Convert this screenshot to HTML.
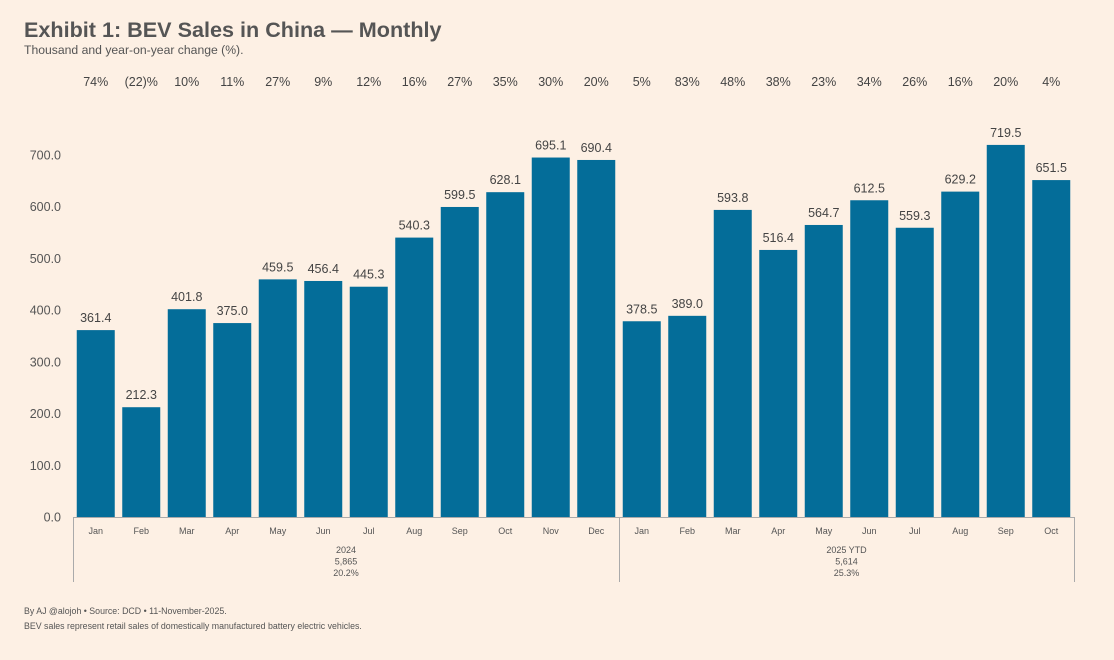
<!DOCTYPE html>
<html><head><meta charset="utf-8">
<style>
body{margin:0;background:#fdf0e4;font-family:"Liberation Sans",sans-serif;}
svg{display:block}
</style></head>
<body>
<svg id="chart" width="1114" height="660" viewBox="0 0 1114 660" xmlns="http://www.w3.org/2000/svg">
<rect width="1114" height="660" fill="#fdf0e4"/>
<text x="24" y="37" font-size="21.6" font-weight="bold" fill="#555">Exhibit 1: BEV Sales in China — Monthly</text>
<text x="24" y="54" font-size="12.2" fill="#555">Thousand and year-on-year change (%).</text>
<g id="yaxis"></g>
<g id="bars"></g>
<g id="xaxis"></g>
<text x="24" y="614" font-size="8.8" fill="#555">By AJ @alojoh • Source: DCD • 11-November-2025.</text>
<text x="24" y="629" font-size="8.8" fill="#555">BEV sales represent retail sales of domestically manufactured battery electric vehicles.</text>
</svg>
<script>
const months = ["Jan","Feb","Mar","Apr","May","Jun","Jul","Aug","Sep","Oct","Nov","Dec","Jan","Feb","Mar","Apr","May","Jun","Jul","Aug","Sep","Oct"];
const sales = [361.4,212.3,401.8,375.0,459.5,456.4,445.3,540.3,599.5,628.1,695.1,690.4,378.5,389.0,593.8,516.4,564.7,612.5,559.3,629.2,719.5,651.5];
const yoy = ["74%","(22)%","10%","11%","27%","9%","12%","16%","27%","35%","30%","20%","5%","83%","48%","38%","23%","34%","26%","16%","20%","4%"];
const yTicks = [0,100,200,300,400,500,600,700];
const groupNames = ["2024","2025 YTD"];
const groupTotals = ["5,865","5,614"];
const groupGrowth = ["20.2%","25.3%"];
const groupSizes = [12,10];

const NS="http://www.w3.org/2000/svg";
const x0=73, x1=1074, yBase=517, yTop=155, yMaxVal=700;
const band=(x1-x0)/months.length, pad=3.75;
const y=v=>yBase-(v/yMaxVal)*(yBase-yTop);
const xb=i=>x0+i*band;
function mk(tag,attrs,parent,text){const e=document.createElementNS(NS,tag);for(const k in attrs)e.setAttribute(k,attrs[k]);if(text!==undefined)e.textContent=text;parent.appendChild(e);return e;}
const ya=document.getElementById('yaxis'), bg=document.getElementById('bars'), xa=document.getElementById('xaxis');
yTicks.forEach(t=>{
  const e=mk('text',{x:61,y:y(t)+4.5,'text-anchor':'end','font-size':12.5,fill:'#555'},ya,t.toFixed(1));
  
  
});
sales.forEach((v,i)=>{
  const r=mk('rect',{x:xb(i)+pad,y:y(v),width:band-2*pad,height:yBase-y(v),fill:'#046d99'},bg);
  
  
  const l=mk('text',{x:xb(i)+band/2,y:y(v)-8,'text-anchor':'middle','font-size':12.5,fill:'#444'},bg,v.toFixed(1));
  
  
  const p=mk('text',{x:xb(i)+band/2,y:86,'text-anchor':'middle','font-size':12.5,fill:'#444'},bg,yoy[i]);
  
  
  const m=mk('text',{x:xb(i)+band/2,y:534,'text-anchor':'middle','font-size':9,fill:'#555'},xa,months[i]);
  
  
});
const axl=mk('line',{x1:x0,x2:x1,y1:yBase+0.5,y2:yBase+0.5,stroke:'#aaa','stroke-width':1},xa);


let start=0;
const bounds=[x0];
groupSizes.forEach((n,g)=>{
  const xs=xb(start), xe=xb(start+n);
  bounds.push(xe);
  const cx=(xs+xe)/2;
  [groupNames[g],groupTotals[g],groupGrowth[g]].forEach((t,k)=>{
    const e=mk('text',{x:cx,y:553+k*11.5,'text-anchor':'middle','font-size':9,fill:'#555'},xa,t);
    
    
  });
  start+=n;
});
bounds.forEach(b=>{
  const l=mk('line',{x1:b+0.5,x2:b+0.5,y1:yBase,y2:582,stroke:'#aaa','stroke-width':1},xa);
  
  
});
</script>
</body></html>
